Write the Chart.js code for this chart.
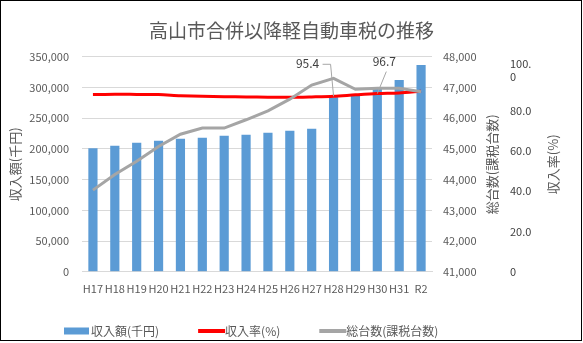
<!doctype html>
<html lang="ja">
<head>
<meta charset="utf-8">
<script src="https://cdn.jsdelivr.net/npm/chart.js@4.4.1/dist/chart.umd.min.js"></script>
<style>
  html, body { margin: 0; padding: 0; background: #fff; }
  #wrap { position: relative; width: 583px; height: 343px; }
  #frame { position: absolute; left: 0; top: 0; width: 580px; height: 339px; border: 1px solid #000; pointer-events: none; }
</style>
</head>
<body>
<div id="wrap">
  <canvas id="chart" width="583" height="343"></canvas>
  <div id="frame"></div>
</div>
<script>
  // data
  const years = ['H17','H18','H19','H20','H21','H22','H23','H24','H25','H26','H27','H28','H29','H30','H31','R2'];
  const revenue = [201000, 205300, 210100, 213400, 216700, 218300, 221500, 223100, 226400, 229600, 232800, 284000, 289600, 298800, 312200, 336600];
  const collectionRate = [96.2, 96.4, 96.3, 96.2, 95.7, 95.4, 95.2, 95.1, 95.0, 94.9, 95.1, 95.4, 96.1, 96.7, 97.0, 97.8];
  const vehicles = [43660, 44165, 44600, 45080, 45480, 45680, 45680, 45950, 46240, 46620, 47080, 47300, 46940, 46975, 46975, 46865];
  const labeledRate = [11, 13];

  const textColor = '#595959';
  const gridColor = '#d9d9d9';
  const jpFont = '"Noto Sans CJK JP", "Noto Sans", sans-serif';

  // right axis titles, data labels with leader lines, legend
  const extras = {
    id: 'extras',
    afterDraw(chart) {
      const ctx = chart.ctx;
      const area = chart.chartArea;
      const midY = (area.top + area.bottom) / 2;

      ctx.save();
      ctx.fillStyle = textColor;
      ctx.font = '13px ' + jpFont;
      ctx.textAlign = 'center';
      ctx.textBaseline = 'middle';
      [['y1', 60, '総台数(課税台数)'], ['y2', 49, '収入率(%)']].forEach(([id, off, txt]) => {
        const s = chart.scales[id];
        ctx.save();
        ctx.translate(s.left + off, midY);
        ctx.rotate(-Math.PI / 2);
        ctx.fillText(txt, 0, 0);
        ctx.restore();
      });

      // data labels on the rate line
      const meta = chart.getDatasetMeta(1);
      ctx.font = '12px ' + jpFont;
      ctx.fillStyle = '#404040';
      ctx.strokeStyle = '#a6a6a6';
      ctx.lineWidth = 1;
      labeledRate.forEach((i, k) => {
        const p = meta.data[i];
        const v = collectionRate[i].toFixed(1);
        ctx.beginPath();
        if (k === 0) {
          ctx.fillText(v, p.x - 26, p.y - 33);
          ctx.moveTo(p.x - 11, p.y - 32);
          ctx.lineTo(p.x - 3, p.y - 32);
          ctx.lineTo(p.x, p.y);
        } else {
          ctx.fillText(v, p.x + 7, p.y - 32);
          ctx.moveTo(p.x + 9, p.y - 22);
          ctx.lineTo(p.x, p.y);
        }
        ctx.stroke();
      });

      // legend
      const ly = 331;
      let lx = 64;
      ctx.font = '12px ' + jpFont;
      ctx.textAlign = 'left';
      chart.data.datasets.map((d, i) => i).sort((a, b) => chart.data.datasets[b].order - chart.data.datasets[a].order).forEach(i => {
        const d = chart.data.datasets[i];
        if (d.type === 'bar') {
          ctx.fillStyle = d.backgroundColor;
          ctx.fillRect(lx, ly - 3.5, 25, 7);
        } else {
          ctx.strokeStyle = d.borderColor;
          ctx.lineWidth = 4;
          ctx.beginPath();
          ctx.moveTo(lx, ly);
          ctx.lineTo(lx + 27, ly);
          ctx.stroke();
        }
        ctx.fillStyle = textColor;
        ctx.fillText(d.label, lx + 27, ly);
        lx += 27 + ctx.measureText(d.label).width + 39;
      });
      ctx.restore();
    }
  };

  new Chart(document.getElementById('chart'), {
    data: {
      labels: years,
      datasets: [
        {
          type: 'bar',
          label: '収入額(千円)',
          data: revenue,
          backgroundColor: '#5b9bd5',
          yAxisID: 'y',
          barPercentage: 0.42,
          categoryPercentage: 1,
          order: 2
        },
        {
          type: 'line',
          label: '収入率(%)',
          data: collectionRate,
          borderColor: '#ff0000',
          backgroundColor: '#ff0000',
          borderWidth: 3,
          pointRadius: 0,
          tension: 0.3,
          yAxisID: 'yRate',
          order: 1
        },
        {
          type: 'line',
          label: '総台数(課税台数)',
          data: vehicles,
          borderColor: '#a5a5a5',
          backgroundColor: '#a5a5a5',
          borderWidth: 3,
          pointRadius: 0,
          tension: 0,
          yAxisID: 'y1',
          order: 0
        }
      ]
    },
    options: {
      responsive: false,
      devicePixelRatio: 1,
      animation: false,
      layout: { padding: { left: 0, right: 0, top: 0, bottom: 38 } },
      plugins: {
        legend: { display: false },
        tooltip: { enabled: false },
        title: {
          display: true,
          text: '高山市合併以降軽自動車税の推移',
          color: textColor,
          font: { family: jpFont, size: 19, weight: 'normal' },
          padding: { top: 19, bottom: 15 }
        }
      },
      scales: {
        x: {
          grid: { display: false, drawTicks: false },
          border: { color: gridColor },
          ticks: { color: textColor, font: { family: jpFont, size: 11 }, padding: 10, maxRotation: 0, autoSkip: false }
        },
        y: {
          position: 'left',
          min: 0,
          max: 350000,
          grid: { color: gridColor, drawTicks: false },
          border: { display: false },
          ticks: {
            stepSize: 50000,
            color: textColor,
            font: { family: jpFont, size: 11 },
            padding: 13,
            callback: v => v.toLocaleString('en-US')
          },
          title: { display: true, text: '収入額(千円)', color: textColor, font: { family: jpFont, size: 13 }, padding: { top: 7, bottom: 0 } },
          afterFit: s => { s.width = 82; }
        },
        y1: {
          position: 'right',
          weight: 0,
          min: 41000,
          max: 48000,
          grid: { drawOnChartArea: false, drawTicks: false },
          border: { display: false },
          ticks: {
            stepSize: 1000,
            color: textColor,
            font: { family: jpFont, size: 11 },
            padding: 11,
            callback: v => v.toLocaleString('en-US')
          },
          afterFit: s => { s.width = 72; }
        },
        y2: {
          position: 'right',
          weight: 1,
          min: 0,
          max: 106.6,
          grid: { drawOnChartArea: false, drawTicks: false },
          border: { display: false },
          ticks: {
            stepSize: 20,
            includeBounds: false,
            color: '#404040',
            font: { family: jpFont, size: 11 },
            padding: 6,
            callback: v => v === 0 ? '0' : (v === 100 ? ['100.', '0'] : v.toFixed(1))
          },
          afterFit: s => { s.width = 79; }
        },
        yRate: {
          display: false,
          position: 'right',
          min: 11.4,
          max: 114.3
        }
      }
    },
    plugins: [extras]
  });
</script>
</body>
</html>
